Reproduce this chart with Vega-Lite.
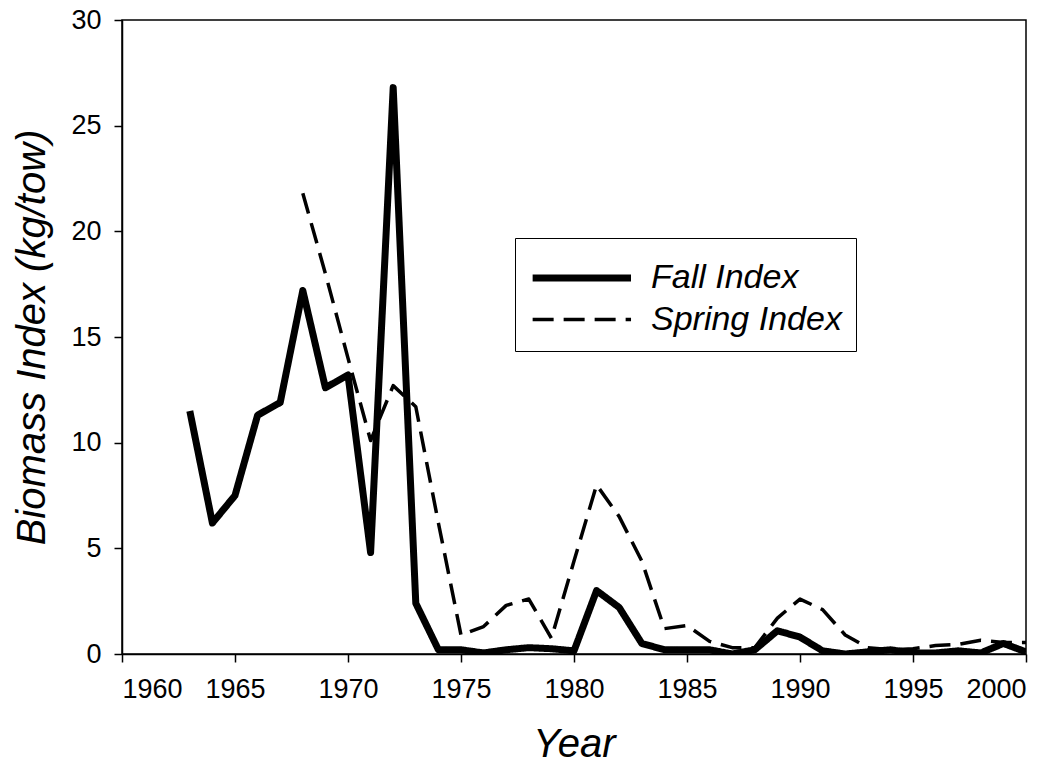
{
  "$schema": "https://vega.github.io/schema/vega-lite/v6.json",
  "autosize": "none",
  "width": 904,
  "height": 634,
  "padding": {"left": 122, "top": 20, "right": 35, "bottom": 110},
  "background": "white",
  "config": {
    "font": "Liberation Sans",
    "view": {"stroke": "black", "strokeWidth": 1.5},
    "axis": {
      "grid": false,
      "domainColor": "black",
      "domainWidth": 1.5,
      "tickColor": "black",
      "tickWidth": 1.5,
      "tickSize": 8,
      "labelColor": "black",
      "labelFont": "Liberation Sans",
      "labelFontSize": 27,
      "titleColor": "black",
      "titleFont": "Liberation Sans",
      "titleFontStyle": "italic",
      "titleFontWeight": "normal",
      "titleFontSize": 40
    }
  },
  "data": {
    "values": [
      {"year": 1963, "value": 11.5, "series": "Fall Index"},
      {"year": 1964, "value": 6.2, "series": "Fall Index"},
      {"year": 1965, "value": 7.5, "series": "Fall Index"},
      {"year": 1966, "value": 11.3, "series": "Fall Index"},
      {"year": 1967, "value": 11.9, "series": "Fall Index"},
      {"year": 1968, "value": 17.2, "series": "Fall Index"},
      {"year": 1969, "value": 12.6, "series": "Fall Index"},
      {"year": 1970, "value": 13.2, "series": "Fall Index"},
      {"year": 1971, "value": 4.8, "series": "Fall Index"},
      {"year": 1972, "value": 26.8, "series": "Fall Index"},
      {"year": 1973, "value": 2.4, "series": "Fall Index"},
      {"year": 1974, "value": 0.2, "series": "Fall Index"},
      {"year": 1975, "value": 0.2, "series": "Fall Index"},
      {"year": 1976, "value": 0.05, "series": "Fall Index"},
      {"year": 1977, "value": 0.2, "series": "Fall Index"},
      {"year": 1978, "value": 0.3, "series": "Fall Index"},
      {"year": 1979, "value": 0.25, "series": "Fall Index"},
      {"year": 1980, "value": 0.15, "series": "Fall Index"},
      {"year": 1981, "value": 3.0, "series": "Fall Index"},
      {"year": 1982, "value": 2.2, "series": "Fall Index"},
      {"year": 1983, "value": 0.5, "series": "Fall Index"},
      {"year": 1984, "value": 0.2, "series": "Fall Index"},
      {"year": 1985, "value": 0.2, "series": "Fall Index"},
      {"year": 1986, "value": 0.2, "series": "Fall Index"},
      {"year": 1987, "value": 0.0, "series": "Fall Index"},
      {"year": 1988, "value": 0.2, "series": "Fall Index"},
      {"year": 1989, "value": 1.1, "series": "Fall Index"},
      {"year": 1990, "value": 0.8, "series": "Fall Index"},
      {"year": 1991, "value": 0.15, "series": "Fall Index"},
      {"year": 1992, "value": 0.0, "series": "Fall Index"},
      {"year": 1993, "value": 0.1, "series": "Fall Index"},
      {"year": 1994, "value": 0.2, "series": "Fall Index"},
      {"year": 1995, "value": 0.05, "series": "Fall Index"},
      {"year": 1996, "value": 0.05, "series": "Fall Index"},
      {"year": 1997, "value": 0.15, "series": "Fall Index"},
      {"year": 1998, "value": 0.05, "series": "Fall Index"},
      {"year": 1999, "value": 0.5, "series": "Fall Index"},
      {"year": 2000, "value": 0.1, "series": "Fall Index"},
      {"year": 1968, "value": 21.8, "series": "Spring Index"},
      {"year": 1969, "value": 18.0, "series": "Spring Index"},
      {"year": 1970, "value": 14.0, "series": "Spring Index"},
      {"year": 1971, "value": 10.1, "series": "Spring Index"},
      {"year": 1972, "value": 12.7, "series": "Spring Index"},
      {"year": 1973, "value": 11.7, "series": "Spring Index"},
      {"year": 1974, "value": 6.2, "series": "Spring Index"},
      {"year": 1975, "value": 0.9, "series": "Spring Index"},
      {"year": 1976, "value": 1.3, "series": "Spring Index"},
      {"year": 1977, "value": 2.3, "series": "Spring Index"},
      {"year": 1978, "value": 2.6, "series": "Spring Index"},
      {"year": 1979, "value": 0.75, "series": "Spring Index"},
      {"year": 1980, "value": 4.4, "series": "Spring Index"},
      {"year": 1981, "value": 8.0, "series": "Spring Index"},
      {"year": 1982, "value": 6.5, "series": "Spring Index"},
      {"year": 1983, "value": 4.4, "series": "Spring Index"},
      {"year": 1984, "value": 1.2, "series": "Spring Index"},
      {"year": 1985, "value": 1.35, "series": "Spring Index"},
      {"year": 1986, "value": 0.6, "series": "Spring Index"},
      {"year": 1987, "value": 0.3, "series": "Spring Index"},
      {"year": 1988, "value": 0.3, "series": "Spring Index"},
      {"year": 1989, "value": 1.7, "series": "Spring Index"},
      {"year": 1990, "value": 2.6, "series": "Spring Index"},
      {"year": 1991, "value": 2.1, "series": "Spring Index"},
      {"year": 1992, "value": 0.9, "series": "Spring Index"},
      {"year": 1993, "value": 0.3, "series": "Spring Index"},
      {"year": 1994, "value": 0.2, "series": "Spring Index"},
      {"year": 1995, "value": 0.25, "series": "Spring Index"},
      {"year": 1996, "value": 0.4, "series": "Spring Index"},
      {"year": 1997, "value": 0.45, "series": "Spring Index"},
      {"year": 1998, "value": 0.65, "series": "Spring Index"},
      {"year": 1999, "value": 0.55, "series": "Spring Index"},
      {"year": 2000, "value": 0.55, "series": "Spring Index"}
    ]
  },
  "mark": {"type": "line", "color": "black", "strokeJoin": "round", "strokeCap": "butt", "clip": true},
  "encoding": {
    "x": {
      "field": "year", "type": "quantitative", "title": "Year",
      "scale": {"domain": [1960, 2000], "nice": false, "zero": false},
      "axis": {"values": [1960, 1965, 1970, 1975, 1980, 1985, 1990, 1995, 2000], "format": "d", "labelPadding": 14, "titlePadding": 22}
    },
    "y": {
      "field": "value", "type": "quantitative", "title": "Biomass Index (kg/tow)",
      "scale": {"domain": [0, 30], "nice": false},
      "axis": {"values": [0, 5, 10, 15, 20, 25, 30], "labelPadding": 13, "titlePadding": 18}
    },
    "strokeDash": {
      "field": "series", "type": "nominal",
      "scale": {"domain": ["Fall Index", "Spring Index"], "range": [[1, 0], [21, 10]]},
      "legend": {
        "title": null,
        "orient": "none",
        "legendX": 393,
        "legendY": 218,
        "strokeColor": "black",
        "fillColor": "white",
        "padding": 14,
        "symbolType": "M-1,0H3.4",
        "symbolSize": 2000,
        "symbolStrokeColor": "black",
        "labelFont": "Liberation Sans",
        "labelFontStyle": "italic",
        "labelFontSize": 34,
        "labelColor": "black",
        "labelOffset": 70,
        "labelLimit": 400,
        "rowPadding": 0
      }
    },
    "strokeWidth": {
      "field": "series", "type": "nominal",
      "scale": {"domain": ["Fall Index", "Spring Index"], "range": [7, 3.5]},
      "legend": {"title": null}
    }
  }
}
